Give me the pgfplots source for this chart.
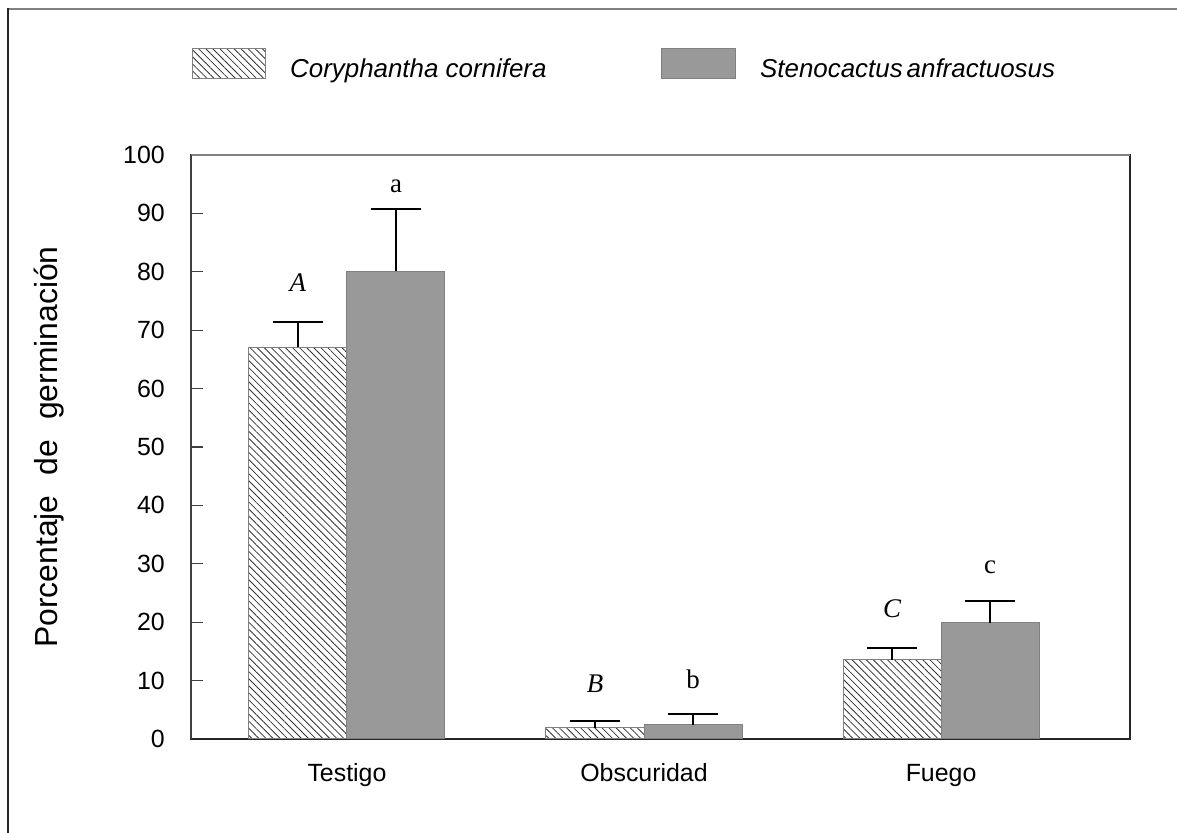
\documentclass[border=0pt]{standalone}
\usepackage{fontspec}
\setmainfont{Liberation Sans}
\newfontfamily\tnr{Liberation Serif}
\usepackage{pgfplots}
\pgfplotsset{compat=1.18}
\usetikzlibrary{patterns.meta}
\definecolor{barfill}{HTML}{999999}
\begin{document}
\begin{tikzpicture}
\useasboundingbox (0bp,0bp) rectangle (1177bp,833bp);
\draw[gray, line width=2bp] (7bp,824bp) -- (1177bp,824bp);
\draw[black!85, line width=1.5bp] (8bp,825bp) -- (8bp,0bp);
\begin{axis}[
  at={(191bp,94bp)}, anchor=south west,
  scale only axis, width=939bp, height=584bp,
  xmin=-0.525, xmax=2.636, ymin=0, ymax=100,
  ytick={0,10,...,100},
  xtick={0,1,2}, xticklabels={Testigo,Obscuridad,Fuego},
  xtick style={draw=none},
  ytick pos=left, tick align=inside, major tick length=12bp,
  ytick style={line width=1.2bp, black!75},
  axis line style={line width=1.5bp, black!85},
  tick label style={font=\fontsize{25}{30}\selectfont, inner sep=0pt},
  /pgf/number format/assume math mode=true,
  yticklabel style={xshift=-26bp},
  xticklabel style={anchor=base, yshift=-43bp},
  clip=false,
  error bars/y dir=plus, error bars/y explicit,
  error bars/error bar style={line width=2bp, black},
  error bars/error mark options={rotate=90, mark size=25bp, line width=2bp, black},
]
% Coryphantha cornifera (hatched), plotted left of each category
\addplot[ybar, bar width=0.33, bar shift=0, draw=gray, line width=1bp,
  pattern={Lines[angle=-45,distance=5bp,line width=0.8bp]}, pattern color=black!80]
  coordinates {(-0.165,67.1) +- (0,4.3) (0.835,1.9) +- (0,1.2) (1.835,13.6) +- (0,2.0)};
% Stenocactus anfractuosus (gray), right of each category
\addplot[ybar, bar width=0.33, bar shift=0, draw=gray, line width=1bp, fill=barfill]
  coordinates {(0.165,80.1) +- (0,10.7) (1.165,2.4) +- (0,1.9) (2.165,19.9) +- (0,3.7)};
\draw[gray, line width=2bp] (rel axis cs:0,1) -- (rel axis cs:1,1);
\draw[black!75, line width=1.5bp] (rel axis cs:0,0) -- (rel axis cs:0,1);
\tikzset{lett/.style={font=\tnr\fontsize{27}{32}\selectfont, inner sep=0pt}}
\node[lett] at (axis cs:-0.165,78.1) {\itshape A};
\node[lett] at (axis cs:0.165,94.6) {a};
\node[lett] at (axis cs:0.835,9.4) {\itshape B};
\node[lett] at (axis cs:1.165,10.3) {b};
\node[lett] at (axis cs:1.835,22.3) {\itshape C};
\node[lett] at (axis cs:2.165,29.4) {c};
\end{axis}
\node[rotate=90, font=\fontsize{32}{38}\selectfont, inner sep=0pt] at (49bp,386bp)
  {Porcentaje\hspace{20bp}de\hspace{20bp}germinación};
\draw[gray, line width=1bp, pattern={Lines[angle=-45,distance=5bp,line width=0.8bp]}, pattern color=black!80]
  (192bp,754bp) rectangle (265bp,784bp);
\draw[gray, line width=1bp, fill=barfill] (661bp,754bp) rectangle (735bp,784bp);
\node[anchor=base west, inner sep=0pt, font=\itshape\fontsize{26}{31}\selectfont] at (290bp,755bp) {Coryphantha cornifera};
\node[anchor=base west, inner sep=0pt, font=\itshape\fontsize{26}{31}\selectfont] at (760bp,755bp) {Stenocactus\hspace{4bp}anfractuosus};
\end{tikzpicture}
\end{document}
